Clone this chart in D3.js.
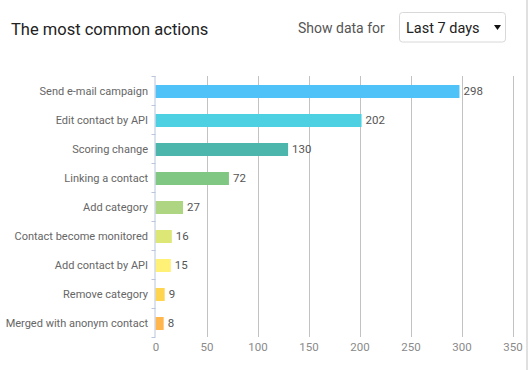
<!DOCTYPE html>
<html>
<head>
<meta charset="utf-8">
<title>The most common actions</title>
<script src="https://cdnjs.cloudflare.com/ajax/libs/d3/7.8.5/d3.min.js"></script>
<style>
body { margin: 0; background: #fff; font-family: Roboto, "Noto Sans", sans-serif; }
.grid line { stroke: #c2c2c2; stroke-width: 1; }
.xaxis text { fill: #8a8a8a; font-size: 11.5px; }
.cat { fill: #666; font-size: 11px; }
.val { fill: #555; font-size: 11.5px; }
</style>
</head>
<body>
<svg id="chart" width="530" height="370"></svg>
<script>
var actions = ["Send e-mail campaign", "Edit contact by API", "Scoring change", "Linking a contact",
  "Add category", "Contact become monitored", "Add contact by API", "Remove category",
  "Merged with anonym contact"];
var counts = [298, 202, 130, 72, 27, 16, 15, 9, 8];
var barColors = ["#4fc3f7", "#4dd0e1", "#4db6ac", "#81c784", "#aed581", "#dce775", "#fff176", "#ffd54f", "#ffb74d"];
var xTicks = [0, 50, 100, 150, 200, 250, 300, 350];

var data = actions.map(function(a, i) {
  return { action: a, count: counts[i], color: barColors[i] };
});

var svg = d3.select("#chart");

// container border on the right
svg.append("rect")
  .attr("x", 526).attr("y", 0)
  .attr("width", 2).attr("height", 370)
  .attr("fill", "#e0e0e0");

// header
svg.append("text")
  .attr("x", 11).attr("y", 34.5)
  .style("font-size", "16.5px")
  .style("fill", "#222")
  .text("The most common actions");

svg.append("text")
  .attr("x", 298).attr("y", 33)
  .style("font-size", "14px")
  .style("fill", "#555")
  .text("Show data for");

svg.append("rect")
  .attr("x", 399.5).attr("y", 12.5)
  .attr("width", 106).attr("height", 29.5)
  .attr("rx", 3)
  .attr("fill", "#fff")
  .attr("stroke", "#d8d8d8");

svg.append("text")
  .attr("x", 406).attr("y", 33)
  .style("font-size", "14.5px")
  .style("fill", "#222")
  .text("Last 7 days");

svg.append("path")
  .attr("d", "M494,25 L501,25 L497.5,30 Z")
  .attr("fill", "#111");

// chart area
var plotLeft = 155.5, plotRight = 512.5, plotTop = 76, plotBottom = 337;

var x = d3.scaleLinear()
  .domain([0, 350])
  .range([plotLeft, plotRight]);

var y = d3.scaleBand()
  .domain(actions)
  .range([plotTop, plotBottom])
  .padding(0);

var barH = 13;

// gridlines
svg.append("g")
  .attr("class", "grid")
  .selectAll("line")
  .data(xTicks.slice(1))
  .enter().append("line")
  .attr("x1", function(d) { return Math.round(x(d)) + 0.5; })
  .attr("x2", function(d) { return Math.round(x(d)) + 0.5; })
  .attr("y1", plotTop)
  .attr("y2", plotBottom);

// x axis labels
var xAxis = svg.append("g")
  .attr("class", "xaxis")
  .attr("transform", "translate(0," + (plotBottom + 2) + ")")
  .call(d3.axisBottom(x).tickValues(xTicks).tickSize(0).tickPadding(4));
xAxis.select(".domain").remove();
xAxis.selectAll("text").style("font-family", "Roboto, sans-serif");

// bars
svg.selectAll(".bar")
  .data(data)
  .enter().append("rect")
  .attr("class", "bar")
  .attr("x", x(0))
  .attr("y", function(d) { return y(d.action) + y.bandwidth() / 2 - barH / 2 + 1; })
  .attr("width", function(d) { return x(d.count) - x(0); })
  .attr("height", barH)
  .attr("fill", function(d) { return d.color; });

// value labels
svg.selectAll(".val")
  .data(data)
  .enter().append("text")
  .attr("class", "val")
  .attr("x", function(d) { return x(d.count) + 4; })
  .attr("y", function(d) { return y(d.action) + y.bandwidth() / 2 + 4.5; })
  .text(function(d) { return d.count; });

// y axis: line + ticks at band edges
var axisColor = "#b9c6dc";
svg.append("line")
  .attr("x1", plotLeft - 0.5).attr("x2", plotLeft - 0.5)
  .attr("y1", plotTop).attr("y2", plotBottom)
  .attr("stroke", axisColor);

var edges = actions.map(function(a) { return y(a); }).concat([plotBottom]);
svg.selectAll(".ytick")
  .data(edges)
  .enter().append("line")
  .attr("class", "ytick")
  .attr("x1", plotLeft - 4).attr("x2", plotLeft)
  .attr("y1", function(d) { return Math.round(d) + 0.5; })
  .attr("y2", function(d) { return Math.round(d) + 0.5; })
  .attr("stroke", axisColor);

// category labels
svg.selectAll(".cat")
  .data(data)
  .enter().append("text")
  .attr("class", "cat")
  .attr("x", 148)
  .attr("y", function(d) { return y(d.action) + y.bandwidth() / 2 + 4.5; })
  .attr("text-anchor", "end")
  .text(function(d) { return d.action; });
</script>
</body>
</html>
